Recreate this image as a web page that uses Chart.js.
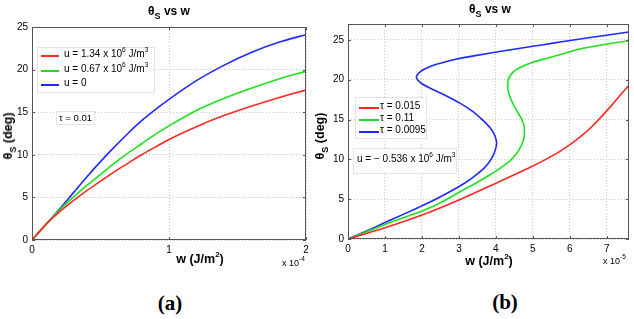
<!DOCTYPE html>
<html>
<head>
<meta charset="utf-8">
<script src="https://cdn.jsdelivr.net/npm/chart.js@4.4.0/dist/chart.umd.min.js"></script>
<style>
    body { margin: 0; width: 634px; height: 319px; background: #fff; position: relative; overflow: hidden;
           font-family: "Liberation Sans", Arial, sans-serif; }
    canvas { position: absolute; top: 0; }
    .t { position: absolute; white-space: nowrap; color: #000; }
    .c { transform: translate(-50%, -50%); }
    .title { font-weight: bold; font-size: 12px; }
    .axis { font-weight: bold; font-size: 12.5px; }
    .rot { transform: translate(-50%, -50%) rotate(-90deg); }
    .small { font-size: 9px; }
    .cap { font-family: "Liberation Serif", "Times New Roman", serif; font-weight: bold; font-size: 21px; }
    .box { position: absolute; background: #fff; border: 1px solid #e4e4e4; font-size: 10px; white-space: nowrap; }
    .row { position: absolute; left: 0; white-space: nowrap; }
    .row i { position: absolute; height: 1.5px; top: 0; }
    .row span { position: absolute; top: -7px; }
    sup { font-size: 6.5px; vertical-align: 5px; line-height: 0; }
    sub { font-size: 9px; vertical-align: -4px; line-height: 0; }
</style>
</head>
<body>
<canvas id="chartA" width="316" height="260" style="left:0"></canvas>
<canvas id="chartB" width="318" height="259" style="left:316px"></canvas>

<div class="t c title" style="left:169px;top:11px">&theta;<sub>S</sub> vs w</div>
<div class="t c title" style="left:490px;top:9px">&theta;<sub>S</sub> vs w</div>

<div class="t axis rot" style="left:8px;top:136px">&theta;<sub>S</sub> (deg)</div>
<div class="t axis rot" style="left:320px;top:136px">&theta;<sub>S</sub> (deg)</div>

<div class="t c axis" style="left:200px;top:259px">w (J/m<sup style="font-size:8px;vertical-align:6px">2</sup>)</div>
<div class="t c axis" style="left:489px;top:261px">w (J/m<sup style="font-size:8px;vertical-align:6px">2</sup>)</div>

<div class="t small" style="left:282px;top:258px">x 10<sup>-4</sup></div>
<div class="t small" style="left:603px;top:256px">x 10<sup>-5</sup></div>

<div class="t c cap" style="left:170px;top:303px">(a)</div>
<div class="t c cap" style="left:505px;top:302px">(b)</div>

<div class="box" style="left:37px;top:47px;width:116px;height:44px" id="legendA"></div>
<div class="box" style="left:56px;top:111px;width:37px;height:12px;font-size:9.5px"><span style="position:absolute;left:2px;top:0px">&tau; = 0.01</span></div>

<div class="box" style="left:355px;top:97px;width:70px;height:40px" id="legendB"></div>
<div class="box" style="left:353px;top:148px;width:102px;height:24px"><span style="position:absolute;left:3px;top:4px">u = &minus; 0.536 x 10<sup>6</sup> J/m<sup>3</sup></span></div>

<script>
// (a) tau = 0.01, w in units of 1e-4 J/m^2
const wA = [0, 0.1, 0.2, 0.3, 0.4, 0.5, 0.6, 0.7, 0.8, 0.9, 1.0, 1.2, 1.4, 1.6, 1.8, 2.0];
const thetaU134 = [0, 1.8, 3.3, 4.6, 5.8, 6.9, 8.0, 9.0, 10.0, 10.9, 11.8, 13.3, 14.6, 15.7, 16.7, 17.6];
const thetaU067 = [0, 1.8, 3.5, 5.0, 6.4, 7.7, 9.0, 10.2, 11.3, 12.4, 13.4, 15.2, 16.6, 17.8, 18.9, 19.8];
const thetaU0   = [0, 1.8, 3.6, 5.5, 7.4, 9.2, 10.9, 12.5, 14.0, 15.3, 16.5, 18.7, 20.5, 22.0, 23.2, 24.1];
const labelsA = ['u = 1.34 x 10<sup>6</sup> J/m<sup>3</sup>', 'u = 0.67 x 10<sup>6</sup> J/m<sup>3</sup>', 'u = 0'];
const xTicksA = [0, 1, 2];
const yTicksA = [0, 5, 10, 15, 20, 25];

// (b) u = -0.536e6 J/m^3, w in units of 1e-5 J/m^2
// the curves fold back in w, so each is listed against rising theta
const thTau015 = [0, 1.4, 3.0, 4.9, 7.0, 8.0, 9.0, 10.0, 11.0, 12.0, 13.0, 14.0, 15.0, 16.0, 17.0, 18.0, 19.3];
const wTau015  = [0, 1.0, 2.0, 3.0, 4.0, 4.47, 4.93, 5.35, 5.73, 6.05, 6.33, 6.57, 6.78, 6.98, 7.17, 7.35, 7.6];
const thTau11 = [0, 1, 2, 3, 4, 5, 6, 7, 8, 9, 10, 11, 12, 13, 14, 15, 16, 17, 18, 19, 19.9, 20.6, 21.2, 21.7, 22.2, 22.7, 23.3, 23.9, 24.4, 24.9];
const wTau11  = [0, 0.55, 1.1, 1.7, 2.25, 2.68, 3.05, 3.45, 3.82, 4.15, 4.42, 4.6, 4.71, 4.77, 4.77, 4.7, 4.58, 4.46, 4.37, 4.32, 4.33, 4.4, 4.53, 4.72, 5.0, 5.38, 5.85, 6.3, 6.9, 7.6];
const thTau0095 = [0, 1, 2, 3, 4, 5, 6, 7, 8, 9, 10, 11, 12, 13, 14, 15, 16, 17, 18, 19, 19.5, 20.0, 20.3, 20.6, 21.0, 21.4, 21.8, 22.2, 22.6, 23.0, 23.4, 23.8, 24.2, 24.6, 25.0, 25.5, 26.0];
const wTau0095  = [0, 0.5, 0.97, 1.45, 1.92, 2.37, 2.78, 3.15, 3.45, 3.7, 3.87, 3.97, 4.02, 3.97, 3.84, 3.63, 3.38, 3.05, 2.65, 2.2, 2.0, 1.88, 1.85, 1.87, 1.95, 2.1, 2.3, 2.6, 2.95, 3.4, 3.9, 4.45, 5.0, 5.55, 6.1, 6.85, 7.6];
const labelsB = ['&tau; = 0.015', '&tau; = 0.11', '&tau; = 0.0095'];
const xTicksB = [0, 1, 2, 3, 4, 5, 6, 7];
const yTicksB = [0, 5, 10, 15, 20, 25];

const colors = ['rgb(255,40,30)', 'rgb(30,225,30)', 'rgb(30,40,255)'];

function pts(xs, ys) {
    return xs.map((x, i) => ({ x: x, y: ys[i] }));
}

// frame round the plot area with small inward ticks, like MATLAB
const framePlugin = {
    id: 'frame',
    afterDatasetsDraw(chart) {
        const ctx = chart.ctx;
        const a = chart.chartArea;
        const sx = chart.scales.x, sy = chart.scales.y;
        ctx.save();
        ctx.strokeStyle = '#555';
        ctx.lineWidth = 1;
        ctx.strokeRect(a.left + 0.5, a.top + 0.5, a.right - a.left - 1, a.bottom - a.top - 1);
        ctx.beginPath();
        sx.ticks.forEach(t => {
            const p = Math.round(sx.getPixelForValue(t.value)) + 0.5;
            ctx.moveTo(p, a.bottom); ctx.lineTo(p, a.bottom - 3);
            ctx.moveTo(p, a.top); ctx.lineTo(p, a.top + 3);
        });
        sy.ticks.forEach(t => {
            const p = Math.round(sy.getPixelForValue(t.value)) + 0.5;
            ctx.moveTo(a.left, p); ctx.lineTo(a.left + 3, p);
            ctx.moveTo(a.right, p); ctx.lineTo(a.right - 3, p);
        });
        ctx.stroke();
        ctx.restore();
    }
};

function axis(min, max, ticks, fitW, fitH) {
    return {
        type: 'linear',
        min: min,
        max: max,
        afterBuildTicks: s => { s.ticks = ticks.map(v => ({ value: v })); },
        afterFit: s => { if (fitW) s.width = fitW; if (fitH) s.height = fitH; },
        grid: { color: '#c8c8c8', drawTicks: false, lineWidth: 1 },
        border: { display: false, dash: [1, 2] },
        ticks: { color: '#000', padding: 4, font: { family: 'Liberation Sans', size: 10 } }
    };
}

// indexAxis decides which way the monotone spline runs
function makeChart(id, datasets, xs, ys, padding, indexAxis) {
    return new Chart(document.getElementById(id), {
        type: 'scatter',
        data: { datasets: datasets },
        options: {
            responsive: false,
            animation: false,
            devicePixelRatio: 1,
            indexAxis: indexAxis,
            layout: { padding: padding },
            plugins: { legend: { display: false }, tooltip: { enabled: false } },
            elements: { point: { radius: 0 } },
            scales: { x: xs, y: ys }
        },
        plugins: [framePlugin]
    });
}

function series(data, i) {
    return { data: data, showLine: true, borderColor: colors[i], backgroundColor: colors[i],
             borderWidth: 1.6, pointRadius: 0, fill: false, cubicInterpolationMode: 'monotone' };
}

makeChart('chartA', [
    series(pts(wA, thetaU134), 0),
    series(pts(wA, thetaU067), 1),
    series(pts(wA, thetaU0), 2)
], axis(0, 2, xTicksA, 0, 20), axis(0, 25, yTicksA, 32, 0), { top: 27, right: 10, left: 0, bottom: 0 }, 'x');

makeChart('chartB', [
    series(pts(wTau015, thTau015), 0),
    series(pts(wTau11, thTau11), 1),
    series(pts(wTau0095, thTau0095), 2)
], axis(0, 7.6, xTicksB, 0, 20), axis(0, 27, yTicksB, 32, 0), { top: 24, right: 5, left: 0, bottom: 0 }, 'y');

// HTML legends built from the label arrays
function buildLegend(id, labels, rowYs, lineX, lineW, textX) {
    const box = document.getElementById(id);
    labels.forEach((lab, i) => {
        const row = document.createElement('div');
        row.className = 'row';
        row.style.top = rowYs[i] + 'px';
        row.innerHTML = '<i style="left:' + lineX + 'px;width:' + lineW + 'px;background:' + colors[i] + '"></i>' +
                        '<span style="left:' + textX + 'px">' + lab + '</span>';
        box.appendChild(row);
    });
}
buildLegend('legendA', labelsA, [7, 22, 36], 3, 18, 26);
buildLegend('legendB', labelsB, [9, 21, 33], 3, 20, 24);
</script>
</body>
</html>
